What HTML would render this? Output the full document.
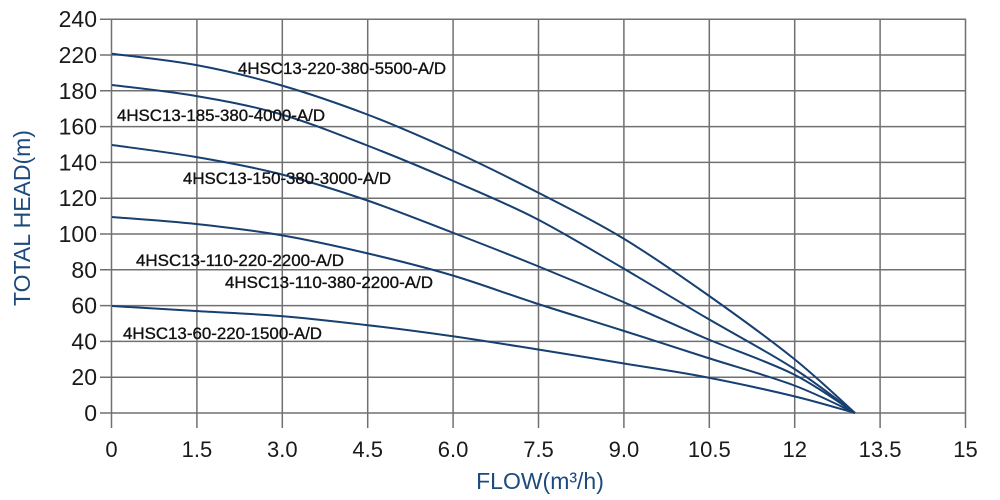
<!DOCTYPE html>
<html><head><meta charset="utf-8"><style>
html,body{margin:0;padding:0;background:#fff}
svg{display:block}
</style></head><body>
<svg id="s" width="1000" height="500" xmlns="http://www.w3.org/2000/svg" font-family="Liberation Sans, sans-serif">
<g id="grid" stroke="#707070" stroke-width="1.5"></g>
<g id="curves" fill="none" stroke="#173f70" stroke-width="2"></g>
<g id="ylab" font-size="23" fill="#1a1a1a" text-anchor="end"></g>
<g id="xlab" font-size="22" fill="#1a1a1a" text-anchor="middle"></g>
<text x="30" y="218" font-size="23" fill="#1d4a7d" text-anchor="middle" transform="rotate(-90 30 218)">TOTAL HEAD(m)</text>
<text x="540" y="489" font-size="23" fill="#1d4a7d" text-anchor="middle">FLOW(m³/h)</text>
<g font-size="17" fill="#111" stroke="#111" stroke-width="0.35">
<text x="238" y="74" textLength="208" lengthAdjust="spacingAndGlyphs">4HSC13-220-380-5500-A/D</text>
<text x="117" y="121" textLength="208" lengthAdjust="spacingAndGlyphs">4HSC13-185-380-4000-A/D</text>
<text x="183" y="184" textLength="208" lengthAdjust="spacingAndGlyphs">4HSC13-150-380-3000-A/D</text>
<text x="136" y="266" textLength="208" lengthAdjust="spacingAndGlyphs">4HSC13-110-220-2200-A/D</text>
<text x="225" y="288" textLength="208" lengthAdjust="spacingAndGlyphs">4HSC13-110-380-2200-A/D</text>
<text x="123" y="339" textLength="199" lengthAdjust="spacingAndGlyphs">4HSC13-60-220-1500-A/D</text>
</g>
</svg>
<script>
var NS="http://www.w3.org/2000/svg";
function el(p,t,a,txt){var e=document.createElementNS(NS,t);for(var k in a)e.setAttribute(k,a[k]);if(txt!=null)e.textContent=txt;document.getElementById(p).appendChild(e);}
var yl=["0","20","40","60","80","100","120","140","160","180","220","240"];
for(var k=0;k<12;k++){var y=413-k*35.8;el("grid","line",{x1:100,x2:966,y1:y,y2:y});el("ylab","text",{x:97,y:y+8},yl[k]);}
var xl=["0","1.5","3.0","4.5","6.0","7.5","9.0","10.5","12","13.5","15"];
for(var i=0;i<=10;i++){var x=111.5+i*85.4;el("grid","line",{x1:x,x2:x,y1:19,y2:428});el("xlab","text",{x:x,y:457},xl[i]);}
var xs=[112,196,280,366,451,535,621,705,793,855];
var cs=[
[53.7,65,85,114,150,191,237,293,358,413],
[85,96,114,145,180,218,267,317,368,413],
[145,157,174,200,232,265,301,338,374,413],
[217,224,235,253,275,303,330,357,385,413],
[306,311,316,325,336,349,363,377,396,413]];
cs.forEach(function(ys){
 var P=xs.map(function(x,i){return [x,ys[i]];});
 var d="M"+P[0][0]+","+P[0][1];
 for(var i=0;i<P.length-1;i++){
  var p0=P[Math.max(0,i-1)],p1=P[i],p2=P[i+1],p3=P[Math.min(P.length-1,i+2)];
  var c1=[p1[0]+(p2[0]-p0[0])/6,p1[1]+(p2[1]-p0[1])/6];
  var c2=[p2[0]-(p3[0]-p1[0])/6,p2[1]-(p3[1]-p1[1])/6];
  d+="C"+c1[0].toFixed(1)+","+c1[1].toFixed(1)+" "+c2[0].toFixed(1)+","+c2[1].toFixed(1)+" "+p2[0]+","+p2[1];
 }
 el("curves","path",{d:d});
});
</script>
</body></html>
